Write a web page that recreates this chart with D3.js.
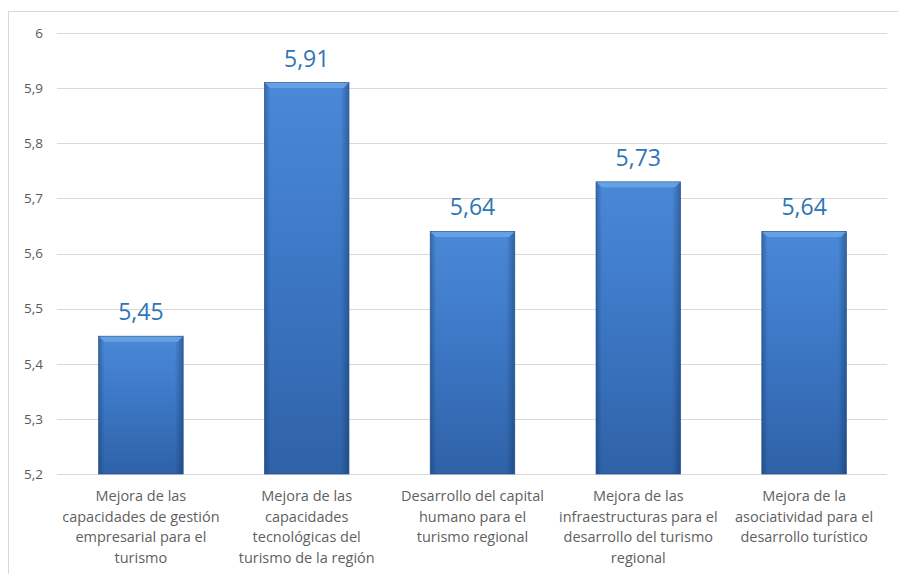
<!DOCTYPE html>
<html><head><meta charset="utf-8">
<script src="https://cdn.jsdelivr.net/npm/d3@7"></script>
<style>body{margin:0;background:#fff;}svg{display:block;}</style>
</head><body>
<svg id="chart" width="898" height="574"></svg>
<script>
const categories = [
  ["Mejora de las", "capacidades de gestión", "empresarial para el", "turismo"],
  ["Mejora de las", "capacidades", "tecnológicas del", "turismo de la región"],
  ["Desarrollo del capital", "humano para el", "turismo regional"],
  ["Mejora de las", "infraestructuras para el", "desarrollo del turismo", "regional"],
  ["Mejora de la", "asociatividad para el", "desarrollo turístico"]
];
const values = [5.45, 5.91, 5.64, 5.73, 5.64];
const valueLabels = ["5,45", "5,91", "5,64", "5,73", "5,64"];
const yTicks = [5.2, 5.3, 5.4, 5.5, 5.6, 5.7, 5.8, 5.9, 6];

(function() {
const svg = d3.select("#chart");
const pLeft = 58, pRight = 887, pTop = 33, pBottom = 474;
const font = "'Open Sans', 'Noto Sans', sans-serif";

// outer border
svg.append("rect").attr("x", 8.5).attr("y", 11.5).attr("width", 900).attr("height", 580)
  .attr("fill", "none").attr("stroke", "#d9d9d9").attr("stroke-width", 1);

const x = d3.scaleBand().domain(d3.range(values.length)).range([pLeft, pRight]).paddingInner(0.49).paddingOuter(0.245);
const y = d3.scaleLinear().domain([5.2, 6]).range([pBottom, pTop]);

const defs = svg.append("defs");
const gv = defs.append("linearGradient").attr("id", "barV").attr("x1", "0").attr("x2", "0").attr("y1", "0").attr("y2", "1");
gv.append("stop").attr("offset", "0%").attr("stop-color", "#4a89d7");
gv.append("stop").attr("offset", "50%").attr("stop-color", "#3b76c3");
gv.append("stop").attr("offset", "100%").attr("stop-color", "#2f62a7");
const gh = defs.append("linearGradient").attr("id", "barH").attr("x1", "0").attr("x2", "1").attr("y1", "0").attr("y2", "0");
gh.append("stop").attr("offset", "0%").attr("stop-color", "#0b2a55").attr("stop-opacity", 0.35);
gh.append("stop").attr("offset", "7%").attr("stop-color", "#0b2a55").attr("stop-opacity", 0);
gh.append("stop").attr("offset", "90%").attr("stop-color", "#0b2a55").attr("stop-opacity", 0);
gh.append("stop").attr("offset", "100%").attr("stop-color", "#0b2a55").attr("stop-opacity", 0.4);

// gridlines
svg.append("g").selectAll("line").data(yTicks).join("line")
  .attr("x1", pLeft - 1).attr("x2", pRight)
  .attr("y1", d => Math.round(y(d)) + 0.5).attr("y2", d => Math.round(y(d)) + 0.5)
  .attr("stroke", "#d9d9d9").attr("stroke-width", 1);

// y axis labels
const yAxis = d3.axisLeft(y).tickValues(yTicks).tickSize(0).tickPadding(0)
  .tickFormat(d => d3.format(".1~f")(d).replace(".", ","));
const ya = svg.append("g").attr("transform", "translate(43,0)").call(yAxis);
ya.select(".domain").remove();
ya.selectAll("text").attr("fill", "#595959").attr("font-size", 13.5).attr("font-family", font);

// bars
const bars = svg.append("g");
bars.selectAll("rect.bar").data(values).join("rect").attr("class", "bar")
  .attr("x", (d, i) => x(i)).attr("width", x.bandwidth())
  .attr("y", d => y(d)).attr("height", d => pBottom - y(d))
  .attr("fill", "url(#barV)");
bars.selectAll("rect.shade").data(values).join("rect").attr("class", "shade")
  .attr("x", (d, i) => x(i)).attr("width", x.bandwidth())
  .attr("y", d => y(d)).attr("height", d => pBottom - y(d))
  .attr("fill", "url(#barH)").attr("stroke", "#2b5792").attr("stroke-width", 0.7);
// top bevel highlight
bars.selectAll("path.bevel").data(values).join("path").attr("class", "bevel")
  .attr("d", (d, i) => {
    const x0 = x(i) + 0.5, x1 = x(i) + x.bandwidth() - 0.5, y0 = y(d) + 0.5, h = 5;
    return `M${x0},${y0}L${x1},${y0}L${x1 - h},${y0 + h}L${x0 + h},${y0 + h}Z`;
  })
  .attr("fill", "#6aa3e6").attr("opacity", 0.9);

// value labels
svg.append("g").selectAll("text").data(values).join("text")
  .attr("x", (d, i) => x(i) + x.bandwidth() / 2)
  .attr("y", d => y(d) - 16)
  .attr("text-anchor", "middle")
  .attr("fill", "#2e75b6").attr("font-size", 23).attr("font-family", font)
  .text((d, i) => valueLabels[i]);

// category labels
const cat = svg.append("g").selectAll("text").data(categories).join("text")
  .attr("text-anchor", "middle")
  .attr("fill", "#5f5f5f").attr("font-size", 14.5).attr("font-family", font);
cat.each(function(lines, i) {
  const t = d3.select(this);
  lines.forEach((l, j) => {
    t.append("tspan").attr("x", x(i) + x.bandwidth() / 2).attr("y", 501 + j * 20.5).text(l);
  });
});
})();
</script>
</body></html>
